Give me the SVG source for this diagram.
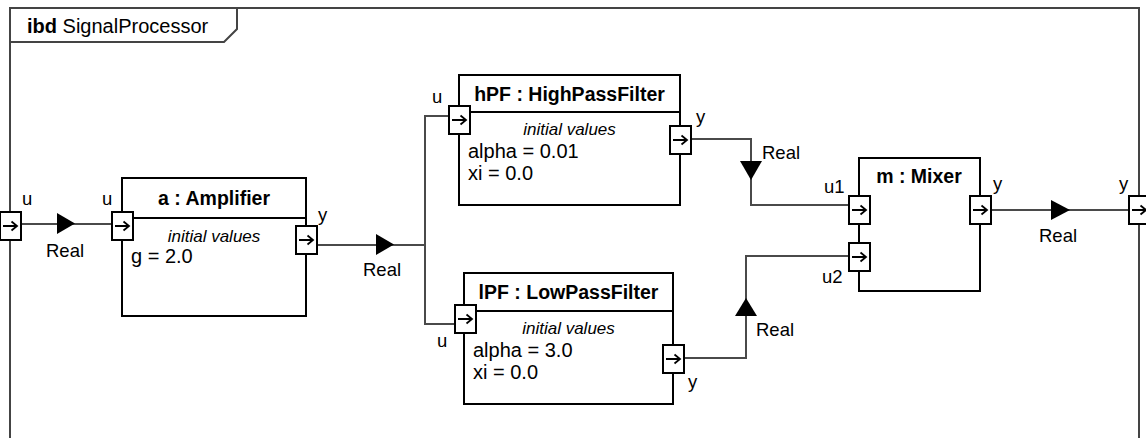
<svg xmlns="http://www.w3.org/2000/svg" width="1146" height="438" viewBox="0 0 1146 438">
<style>
.frame{fill:none;stroke:#444;stroke-width:2}
.blk{fill:#fff;stroke:#000;stroke-width:2}
.sep{stroke:#000;stroke-width:2}
.port{fill:#fff;stroke:#000;stroke-width:2}
.parr{fill:none;stroke:#000;stroke-width:1.8}
.con{fill:none;stroke:#4a4a4a;stroke-width:2}
.tri{fill:#000}
text{font-family:"Liberation Sans",Arial,sans-serif;fill:#000}
.title{font-size:19.5px;font-weight:bold;text-anchor:middle}
.iv{font-size:17px;font-style:italic;text-anchor:middle}
.val{font-size:20px}
.lbl{font-size:18.5px}
</style>
<defs>
<g id="port">
<rect class="port" x="0" y="0" width="21" height="28"/>
<path class="parr" d="M3,14 H17 M11.5,9.5 L17,14 L11.5,18.5"/>
</g>
</defs>

<g id="frame">
<path class="frame" d="M10,445 V8 H1139 V445"/>
<path class="frame" d="M10,42 H224 L237,29 V8"/>
<text x="27" y="33" style="font-size:20px"><tspan font-weight="bold">ibd</tspan> SignalProcessor</text>
</g>

<g id="connectors">
<path class="con" d="M20,224 H112"/>
<path class="tri" d="M57,213 L75,223.5 L57,234 Z"/>
<path class="con" d="M317,245 H425"/>
<path class="tri" d="M376,234 L394,244.5 L376,255 Z"/>
<path class="con" d="M449,116 H425 V324 H455"/>
<path class="con" d="M691,139 H751 V205 H849"/>
<path class="tri" d="M740,161 L762,161 L751,180 Z"/>
<path class="con" d="M684,358 H746 V256 H849"/>
<path class="tri" d="M735,316 L757,316 L746,298 Z"/>
<path class="con" d="M991,210 H1129"/>
<path class="tri" d="M1051,200 L1070,210 L1051,220 Z"/>
<text class="lbl" x="46" y="257">Real</text>
<text class="lbl" x="363" y="276">Real</text>
<text class="lbl" x="762" y="159">Real</text>
<text class="lbl" x="756" y="336">Real</text>
<text class="lbl" x="1039" y="242">Real</text>
</g>

<g id="frame-u">
<use href="#port" x="0" y="212"/>
<text class="lbl" x="22" y="205">u</text>
</g>

<g id="frame-y">
<use href="#port" x="1129" y="196"/>
<text class="lbl" x="1119" y="190">y</text>
</g>

<g id="amplifier">
<rect class="blk" x="122" y="178" width="184" height="138"/>
<line class="sep" x1="122" y1="218" x2="306" y2="218"/>
<text class="title" x="214" y="205">a : Amplifier</text>
<text class="iv" x="214" y="242">initial values</text>
<text class="val" x="131" y="263">g = 2.0</text>
<use href="#port" x="112" y="212"/>
<use href="#port" x="296" y="226"/>
<text class="lbl" x="102" y="205">u</text>
<text class="lbl" x="318" y="221">y</text>
</g>

<g id="hPF">
<rect class="blk" x="459" y="75" width="221" height="130"/>
<line class="sep" x1="459" y1="112" x2="680" y2="112"/>
<text class="title" x="569.5" y="101">hPF : HighPassFilter</text>
<text class="iv" x="569.5" y="135">initial values</text>
<text class="val" x="468" y="158">alpha = 0.01</text>
<text class="val" x="468" y="180">xi = 0.0</text>
<use href="#port" x="449" y="106"/>
<use href="#port" x="670" y="126"/>
<text class="lbl" x="432" y="103">u</text>
<text class="lbl" x="696" y="123">y</text>
</g>

<g id="lPF">
<rect class="blk" x="464" y="273" width="209" height="131"/>
<line class="sep" x1="464" y1="311" x2="673" y2="311"/>
<text class="title" x="568.5" y="299">lPF : LowPassFilter</text>
<text class="iv" x="568.5" y="334">initial values</text>
<text class="val" x="473" y="357">alpha = 3.0</text>
<text class="val" x="473" y="379">xi = 0.0</text>
<use href="#port" x="455" y="305"/>
<use href="#port" x="663" y="345"/>
<text class="lbl" x="437" y="347">u</text>
<text class="lbl" x="688" y="388">y</text>
</g>

<g id="mixer">
<rect class="blk" x="859" y="158" width="121" height="133"/>
<text class="title" x="919" y="183">m : Mixer</text>
<use href="#port" x="849" y="196"/>
<use href="#port" x="849" y="243"/>
<use href="#port" x="970" y="196"/>
<text class="lbl" x="824" y="193">u1</text>
<text class="lbl" x="822" y="283">u2</text>
<text class="lbl" x="993" y="190">y</text>
</g>
</svg>
